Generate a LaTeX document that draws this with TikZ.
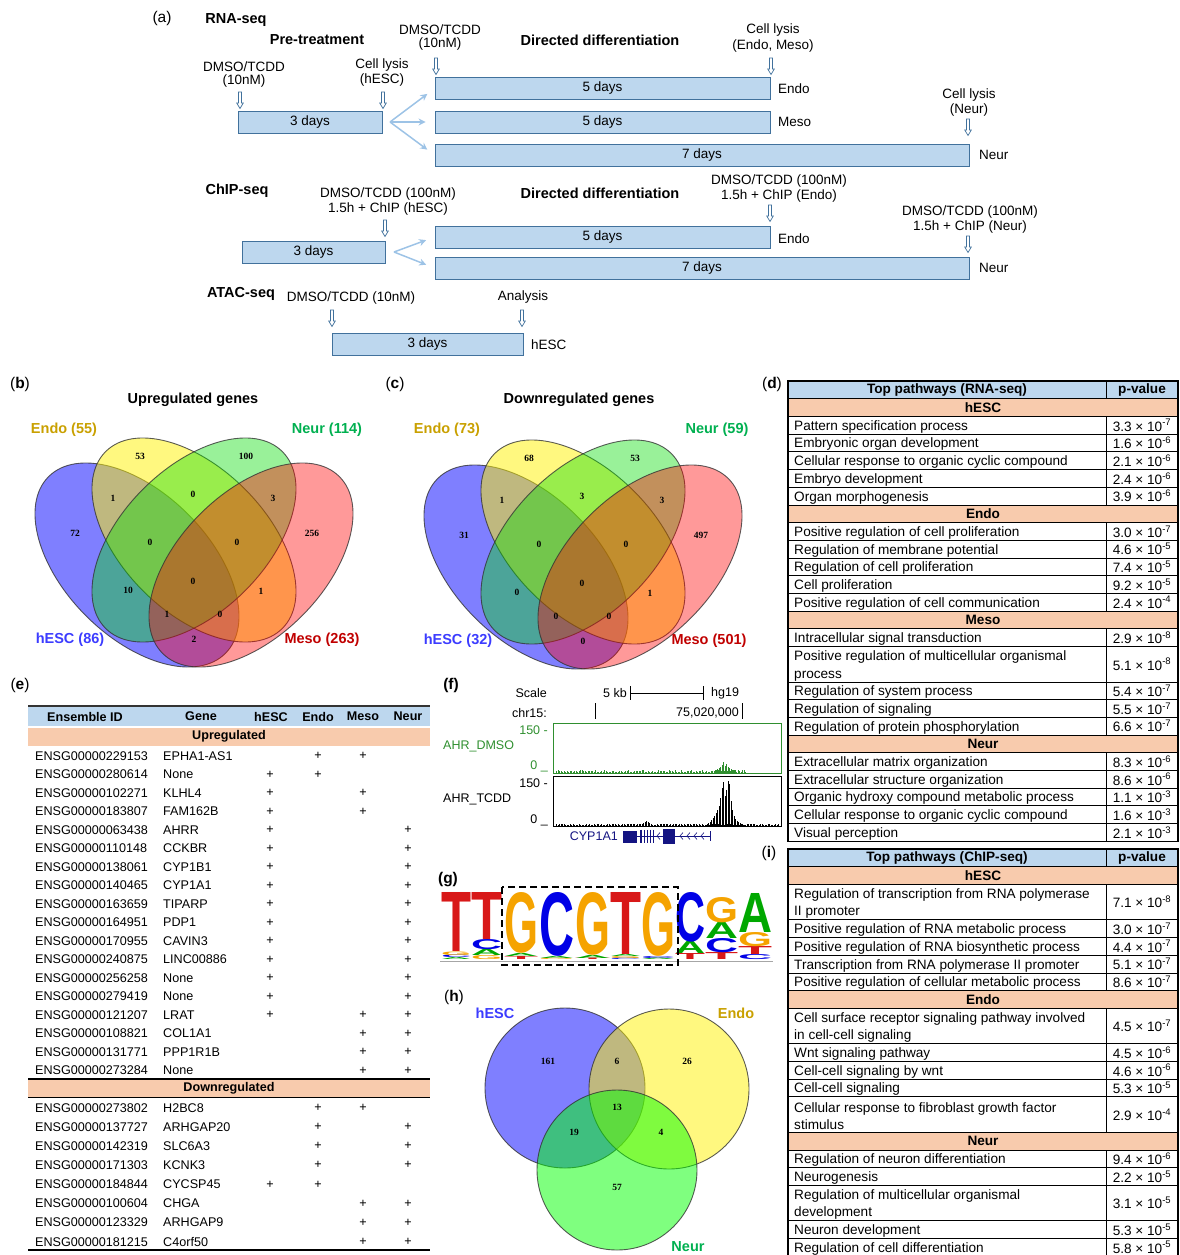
\documentclass[tikz,border=0pt]{standalone}
\usepackage{fontspec}
\setmainfont{Liberation Sans}
\newfontfamily\vennfont{Liberation Serif}
\usetikzlibrary{arrows.meta}

\definecolor{boxfill}{HTML}{BDD7EE}
\definecolor{boxline}{HTML}{41719C}
\definecolor{fanblue}{HTML}{9DC3E6}
\definecolor{catsalmon}{HTML}{F8CBAD}
\definecolor{endogold}{HTML}{C9A000}
\definecolor{neurgreen}{HTML}{00B050}
\definecolor{hescblue}{HTML}{3C3CFF}
\definecolor{mesored}{HTML}{C00000}
\definecolor{vgreen}{HTML}{00DC00}
\definecolor{ucscgreen}{HTML}{2F8F2F}
\definecolor{genenavy}{HTML}{141482}
\definecolor{logored}{HTML}{D81818}
\definecolor{logoorange}{HTML}{F5A300}
\definecolor{logoblue}{HTML}{0000E6}
\definecolor{logogreen}{HTML}{00A800}

\newcommand{\pv}[2]{#1 × 10\textsuperscript{-#2}}

\begin{document}
\begin{tikzpicture}[x=1pt, y=-1pt,
  every node/.style={inner sep=0pt},
  txt/.style={font=\fontsize{13.5}{14.5}\selectfont, align=center},
  head/.style={font=\fontsize{14.5}{16}\selectfont\bfseries},
  panel/.style={font=\fontsize{15.5}{17}\selectfont},
  stage/.style={draw=boxline, fill=boxfill, line width=0.9pt, font=\fontsize{13.5}{15}\selectfont},
  fan/.style={fanblue, line width=1.5pt, -{Stealth[length=7pt, width=7pt]}, shorten >=9pt},
  dnarrow/.pic={\draw[boxline, fill=white, line width=0.7pt]
    (-1.5,0) -- (-1.5,11) -- (-3.3,11) -- (0,16.5) -- (3.3,11) -- (1.5,11) -- (1.5,0) -- cycle;},
  vline/.style={draw=black!80, draw opacity=0.8, line width=0.9pt},
  quadvenn/.pic={
    \draw[vline, fill=blue, fill opacity=.5, rotate around={-45:(137,565)}] (137,565) ellipse [x radius=125, y radius=72];
    \draw[vline, fill=yellow, fill opacity=.5, rotate around={-45:(194,540)}] (194,540) ellipse [x radius=125, y radius=72];
    \draw[vline, fill=vgreen, fill opacity=.4, rotate around={45:(194,540)}] (194,540) ellipse [x radius=125, y radius=72];
    \draw[vline, fill=red, fill opacity=.4, rotate around={45:(251,565)}] (251,565) ellipse [x radius=125, y radius=72];},
  vlab/.style={font=\fontsize{14.5}{16}\selectfont\bfseries},
  vnum/.style={font=\vennfont\bfseries\fontsize{9.5}{10}\selectfont},
  vcirc/.style={circle, minimum size=160, vline, fill opacity=.5},
  tcell/.style={draw=black, line width=0.8pt},
  titem/.style={anchor=west, font=\fontsize{13.6}{17.7}\selectfont, align=left, yshift=-1.5pt},
  tpv/.style={font=\fontsize{13.6}{15}\selectfont},
  thead/.style={font=\fontsize{13.6}{15}\selectfont\bfseries},
  erow/.style={anchor=west, font=\fontsize{12.6}{14}\selectfont},
  eplus/.style={font=\fontsize{12.6}{14}\selectfont},
  ehead/.style={font=\fontsize{12.6}{14}\selectfont\bfseries},
  ucsc/.style={font=\fontsize{12.5}{14}\selectfont},
  letter/.style={anchor=south west}
]
\useasboundingbox (0,0) rectangle (1180,1255);

% (a) time lines
\node[panel] (pa) at (162,18) {(a)};
\node[head] (rnaseq) at (236,20) {RNA-seq};
\node[head] (pretreat) at (317,40) {Pre-treatment};
\node[head] (rdiff) at (600,40) {Directed differentiation};
\node[txt] (rdmso2) at (440,37.5) {DMSO/TCDD\\[-2pt](10nM)};
\node[txt] (rlysis2) at (773,38) {Cell lysis\\[1pt](Endo, Meso)};
\node[txt] (rdmso1) at (244,74.5) {DMSO/TCDD\\[-1pt](10nM)};
\node[txt] (rlysis1) at (382,72.5) {Cell lysis\\(hESC)};
\node[txt] (rlysis3) at (969,102.5) {Cell lysis\\(Neur)};

\node[stage, minimum width=144, minimum height=22] (rpre) at (310,122) {3 days};
\node[stage, minimum width=335, minimum height=22] (rb1) at (602.5,88.5) {5 days};
\node[stage, minimum width=335, minimum height=22] (rb2) at (602.5,122) {5 days};
\node[stage, minimum width=534, minimum height=22] (rb3) at (702,155) {7 days};
\node[txt, anchor=west] (rendo) at (778,89) {Endo};
\node[txt, anchor=west] (rmeso) at (778,122) {Meso};
\node[txt, anchor=west] (rneur) at (979,155) {Neur};

\coordinate (rfork) at (390,122);
\draw[fan] (rfork) -- (rb1.west);
\draw[fan] (rfork) -- (rb2.west);
\draw[fan] (rfork) -- (rb3.west);

\node[head] (chipseq) at (237,191) {ChIP-seq};
\node[head] (cdiff) at (600,193) {Directed differentiation};
\node[txt] (cchip1) at (388,201.5) {DMSO/TCDD (100nM)\\1.5h + ChIP (hESC)};
\node[txt] (cchip2) at (779,188.5) {DMSO/TCDD (100nM)\\1.5h + ChIP (Endo)};
\node[txt] (cchip3) at (970,219.5) {DMSO/TCDD (100nM)\\1.5h + ChIP (Neur)};
\node[stage, minimum width=143, minimum height=22] (cpre) at (313.5,252) {3 days};
\node[stage, minimum width=335, minimum height=22] (cb1) at (602.5,237) {5 days};
\node[stage, minimum width=534, minimum height=22] (cb2) at (702,268) {7 days};
\node[txt, anchor=west] (cendo) at (778,239) {Endo};
\node[txt, anchor=west] (cneur) at (979,268) {Neur};
\coordinate (cfork) at (394,252);
\draw[fan] (cfork) -- (cb1.west);
\draw[fan] (cfork) -- (cb2.west);

\node[head] (atacseq) at (241,294) {ATAC-seq};
\node[txt] (admso) at (351,298) {DMSO/TCDD (10nM)};
\node[txt] (aanal) at (523,297) {Analysis};
\node[stage, minimum width=191, minimum height=22] (apre) at (427.5,344) {3 days};
\node[txt, anchor=west] (ahesc) at (531,345) {hESC};

\foreach \x/\y in {240/92, 383/92, 436/58, 771/58, 968/119, 385/220, 770/205, 968/236, 332/310, 522/310}
  \pic at (\x,\y) {dnarrow};

% (b) and (c) four-set Venn diagrams
\node[panel] (pb) at (20,384) {(\textbf{b})};
\node[vlab] (btitle) at (193,400) {Upregulated genes};
\pic at (0,0) {quadvenn};
\node[vlab, text=endogold] (bendo) at (64,430) {Endo (55)};
\node[vlab, text=neurgreen] (bneur) at (327,430) {Neur (114)};
\node[vlab, text=hescblue] (bhesc) at (70,640) {hESC (86)};
\node[vlab, text=mesored] (bmeso) at (322,640) {Meso (263)};

\node[panel] (pc) at (395,384) {(\textbf{c})};
\node[vlab] (ctitle) at (579,400) {Downregulated genes};
\pic at (389,2) {quadvenn};
\node[vlab, text=endogold] (cendo) at (447,430) {Endo (73)};
\node[vlab, text=neurgreen] (cneur) at (717,430) {Neur (59)};
\node[vlab, text=hescblue] (chesc) at (458,641) {hESC (32)};
\node[vlab, text=mesored] (cmeso) at (709,641) {Meso (501)};

\foreach \x/\y/\nb/\nc [count=\i] in {140/456/53/68, 246/456/100/53, 113/498/1/1, 193/494/0/3,
    273/498/3/3, 75/533/72/31, 150/542/0/0, 237/542/0/0, 312/533/256/497, 193/581/0/0,
    128/590/10/0, 261/591/1/1, 167/614/1/0, 220/614/0/0, 194/639/2/0} {
  \node[vnum] (bn\i) at (\x,\y) {\nb};
  \node[vnum] (cn\i) at (\x+389,\y+2) {\nc};
}

% (d) RNA-seq pathways
\node[panel] (pd) at (772,384) {(\textbf{d})};
\draw[tcell, fill=boxfill] (788,381) rectangle (1106,398.7) (1106,381) rectangle (1178,398.7);
\node[thead] (dhead) at (947,390) {Top pathways (RNA-seq)};
\node[thead] (dpval) at (1142,390) {p-value};
\foreach \u/\t in {1/hESC, 7/Endo, 13/Meso, 20/Neur}{
  \pgfmathsetmacro\ya{381+\u*17.7}
  \draw[tcell, fill=catsalmon] (788,\ya) rectangle (1178,\ya+17.7);
  \node[thead] (dc\u) at (983,\ya+8.85) {\t};
}
\foreach \u/\n/\t/\m/\e in {
  2/1/Pattern specification process/3.3/7,
  3/1/Embryonic organ development/1.6/6,
  4/1/Cellular response to organic cyclic compound/2.1/6,
  5/1/Embryo development/2.4/6,
  6/1/Organ morphogenesis/3.9/6,
  8/1/Positive regulation of cell proliferation/3.0/7,
  9/1/Regulation of membrane potential/4.6/5,
  10/1/Regulation of cell proliferation/7.4/5,
  11/1/Cell proliferation/9.2/5,
  12/1/Positive regulation of cell communication/2.4/4,
  14/1/Intracellular signal transduction/2.9/8,
  15/2/Positive regulation of multicellular organismal\\process/5.1/8,
  17/1/Regulation of system process/5.4/7,
  18/1/Regulation of signaling/5.5/7,
  19/1/Regulation of protein phosphorylation/6.6/7,
  21/1/Extracellular matrix organization/8.3/6,
  22/1/Extracellular structure organization/8.6/6,
  23/1/Organic hydroxy compound metabolic process/1.1/3,
  24/1/Cellular response to organic cyclic compound/1.6/3,
  25/1/Visual perception/2.1/3}{
  \pgfmathsetmacro\ya{381+\u*17.7}
  \pgfmathsetmacro\yb{\ya+\n*17.7}
  \draw[tcell] (788,\ya) rectangle (1106,\yb) (1106,\ya) rectangle (1178,\yb);
  \node[titem] (dr\u) at (794,{(\ya+\yb)/2}) {\t};
  \node[tpv] (dp\u) at (1142,{(\ya+\yb)/2}) {\pv{\m}{\e}};
}
\draw[line width=1.4pt] (788,381) rectangle (1178,841.2);

% (i) ChIP-seq pathways
\node[panel] (pi) at (769,853) {(\textbf{i})};
\draw[tcell, fill=boxfill] (788,849) rectangle (1106,866.7) (1106,849) rectangle (1178,866.7);
\node[thead] (ihead) at (947,858) {Top pathways (ChIP-seq)};
\node[thead] (ipval) at (1142,858) {p-value};
\foreach \u/\t in {1/hESC, 8/Endo, 16/Neur}{
  \pgfmathsetmacro\ya{849+\u*17.7}
  \draw[tcell, fill=catsalmon] (788,\ya) rectangle (1178,\ya+17.7);
  \node[thead] (ic\u) at (983,\ya+8.85) {\t};
}
\foreach \u/\n/\t/\m/\e in {
  2/2/Regulation of transcription from RNA polymerase\\II promoter/7.1/8,
  4/1/Positive regulation of RNA metabolic process/3.0/7,
  5/1/Positive regulation of RNA biosynthetic process/4.4/7,
  6/1/Transcription from RNA polymerase II promoter/5.1/7,
  7/1/Positive regulation of cellular metabolic process/8.6/7,
  9/2/Cell surface receptor signaling pathway involved\\in cell-cell signaling/4.5/7,
  11/1/Wnt signaling pathway/4.5/6,
  12/1/Cell-cell signaling by wnt/4.6/6,
  13/1/Cell-cell signaling/5.3/5,
  14/2/Cellular response to fibroblast growth factor\\stimulus/2.9/4,
  17/1/Regulation of neuron differentiation/9.4/6,
  18/1/Neurogenesis/2.2/5,
  19/2/Regulation of multicellular organismal\\development/3.1/5,
  21/1/Neuron development/5.3/5,
  22/1/Regulation of cell differentiation/5.8/5}{
  \pgfmathsetmacro\ya{849+\u*17.7}
  \pgfmathsetmacro\yb{\ya+\n*17.7}
  \draw[tcell] (788,\ya) rectangle (1106,\yb) (1106,\ya) rectangle (1178,\yb);
  \node[titem] (ir\u) at (794,{(\ya+\yb)/2}) {\t};
  \node[tpv] (ip\u) at (1142,{(\ya+\yb)/2}) {\pv{\m}{\e}};
}
\draw[line width=1.4pt] (788,849) rectangle (1178,1256);

% (e) shared genes
\node[panel] (pe) at (20,685) {(\textbf{e})};
\draw[line width=2pt, black!80] (28,705.5) -- (430,705.5);
\fill[boxfill] (28,707) rectangle (430,726);
\foreach \t/\x [count=\i] in {Ensemble ID/85, Gene/201, hESC/271, Endo/318, Meso/363, Neur/408}
  \node[ehead] (eh\i) at (\x,716.5) {\t};
\fill[catsalmon] (28,727.5) rectangle (430,745.5);
\node[ehead] (eup) at (229,736.5) {Upregulated};
\foreach \id/\g [count=\i] in {ENSG00000229153/EPHA1-AS1, ENSG00000280614/None, ENSG00000102271/KLHL4,
    ENSG00000183807/FAM162B, ENSG00000063438/AHRR, ENSG00000110148/CCKBR, ENSG00000138061/CYP1B1,
    ENSG00000140465/CYP1A1, ENSG00000163659/TIPARP, ENSG00000164951/PDP1, ENSG00000170955/CAVIN3,
    ENSG00000240875/LINC00886, ENSG00000256258/None, ENSG00000279419/None, ENSG00000121207/LRAT,
    ENSG00000108821/COL1A1, ENSG00000131771/PPP1R1B, ENSG00000273284/None}{
  \node[erow] (eu\i) at (35,{756+(\i-1)*18.5}) {\id};
  \node[erow] (eug\i) at (163,{756+(\i-1)*18.5}) {\g};
}
\foreach \x/\rows in {270/{2,3,...,15}, 318/{1,2}, 363/{1,3,4,15,16,17,18}, 408/{5,6,...,18}}
  \foreach \i in \rows
    \node[eplus] (eup\x-\i) at (\x,{756+(\i-1)*18.5}) {+};
\draw[line width=1.3pt] (28,1079) -- (430,1079);
\fill[catsalmon] (28,1079.7) rectangle (430,1097);
\draw[line width=0.9pt] (28,1097.5) -- (430,1097.5);
\node[ehead] (edown) at (229,1088.5) {Downregulated};
\foreach \id/\g [count=\i] in {ENSG00000273802/H2BC8, ENSG00000137727/ARHGAP20, ENSG00000142319/SLC6A3,
    ENSG00000171303/KCNK3, ENSG00000184844/CYCSP45, ENSG00000100604/CHGA, ENSG00000123329/ARHGAP9,
    ENSG00000181215/C4orf50}{
  \node[erow] (ed\i) at (35,{1108+(\i-1)*19.1}) {\id};
  \node[erow] (edg\i) at (163,{1108+(\i-1)*19.1}) {\g};
}
\foreach \x/\rows in {270/{5}, 318/{1,2,3,4,5}, 363/{1,6,7,8}, 408/{2,3,4,6,7,8}}
  \foreach \i in \rows
    \node[eplus] (edp\x-\i) at (\x,{1108+(\i-1)*19.1}) {+};
\draw[line width=1.3pt] (28,1250) -- (430,1250);

% (f) browser tracks
\node[panel] (pf) at (451,685) {\textbf{(f)}};
\node[ucsc, anchor=east] (scale) at (547,693) {Scale};
\node[ucsc, anchor=east] (kb) at (627,693) {5 kb};
\node[ucsc, anchor=west] (hg) at (711,693) {hg19};
\draw[line width=0.7pt] (630,693) -- (703,693) (630,686) -- (630,700) (703,686) -- (703,700);
\node[ucsc, anchor=east] (chr) at (547,713) {chr15:};
\node[ucsc, anchor=east] (pos) at (739,713) {75,020,000};
\draw[line width=0.7pt] (595,703) -- (595,719) (742,703) -- (742,719);
\draw[ucscgreen, line width=0.7pt] (553,723) rectangle (781,773);
\draw[line width=0.7pt] (553,776) rectangle (781,826);
\node[ucsc, text=ucscgreen, anchor=east] (d150) at (548,730) {150 -};
\node[ucsc, text=ucscgreen, anchor=west] (dname) at (443,746) {AHR\_DMSO};
\node[ucsc, text=ucscgreen, anchor=east] (d0) at (548,766) {0 \_};
\node[ucsc, anchor=east] (t150) at (548,783) {150 -};
\node[ucsc, anchor=west] (tname) at (443,799) {AHR\_TCDD};
\node[ucsc, anchor=east] (t0) at (548,820) {0 \_};
\pgfmathsetseed{11}
\foreach \x in {556,557.5,...,746}{
  \pgfmathsetmacro\h{0.3+2.2*rnd}
  \fill[ucscgreen] (\x,772.5) rectangle ++(1.2,-\h);
}
\foreach \h [count=\i] in {3,4,5,6,8,11,7,9,6,5,4,3,3,2}
  \fill[ucscgreen] (714+\i*1.5,772.5) rectangle ++(1.2,-\h);
\foreach \x in {556,557.5,...,779}{
  \pgfmathsetmacro\h{0.2+1.6*rnd}
  \fill[black] (\x,825.5) rectangle ++(1.2,-\h);
}
\foreach \h [count=\i] in {2,3,4,5,4,3,2}
  \fill[black] (640+\i*1.5,825.5) rectangle ++(1.2,-\h);
\foreach \h [count=\i] in {2,3,4,6,8,10,13,16,20,28,38,44,30,36,45,42,25,16,10,7,5,4,3,2,1}
  \fill[black] (705+\i*1.5,825.5) rectangle ++(1.3,-\h);
\node[ucsc, text=genenavy, anchor=east] (cyp) at (618,836) {CYP1A1};
\draw[genenavy, line width=0.8pt] (623,836) -- (710,836) (710,831) -- (710,841);
\fill[genenavy] (623,830.5) rectangle (637,842.5);
\fill[genenavy] (663,829) rectangle (675,844);
\foreach \x in {641,644.5,647.5,650.5,653.5}
  \draw[genenavy, line width=1.2pt] (\x,829.5) -- (\x,843);
\foreach \x in {657,680,687,694,701}
  \draw[genenavy, line width=0.6pt] (\x+3,832.5) -- (\x,836) -- (\x+3,839.5);

% (g) motif logo
\node[panel] (pg) at (448,880) {\textbf{(g)}};
\draw[gray!70, line width=0.8pt] (440,961) -- (773,961);
\foreach \x/\w/\y/\h/\c/\l [count=\i] in {
  441/30/960/2/logogreen/A, 441/30/958/2.5/logoblue/C, 441/30/955.5/3.5/logoorange/G, 441/30/952/59/logored/T,
  471/31/960/4/logoorange/G, 471/31/956/6/logogreen/A, 471/31/950/10/logoblue/C, 471/31/940/47/logored/T,
  504/34/960/3/logored/T, 504/34/957/3/logogreen/A, 504/34/954/60/logoorange/G,
  539/35/960/1.5/logoorange/G, 539/35/958.5/2/logogreen/A, 539/35/956.5/63/logoblue/C,
  575/35/960/1.5/logored/T, 575/35/958.5/3/logogreen/A, 575/35/955.5/62/logoorange/G,
  610/31/960/1.5/logoblue/C, 610/31/958.5/2/logoorange/G, 610/31/956.5/2/logogreen/A, 610/31/954.5/62/logored/T,
  641/34/960/1.5/logogreen/A, 641/34/958.5/2/logoblue/C, 641/34/956.5/63/logoorange/G,
  675/30/960/6/logored/T, 675/30/954/12/logogreen/A, 675/30/942/49/logoblue/C,
  705/33/960/7/logored/T, 705/33/953/14/logoblue/C, 705/33/939/16/logogreen/A, 705/33/923/25/logoorange/G,
  738/34/960/5/logoblue/C, 738/34/955/8/logored/T, 738/34/947/14/logoorange/G, 738/34/933/39/logogreen/A}
  \node[letter, text=\c] (lg\i) at (\x,\y) {\resizebox{\w pt}{\h pt}{\bfseries\l}};
\draw[line width=2.5pt, dash pattern=on 7pt off 4pt] (502,887) rectangle (678,965);

% (h) three-set Venn diagram
\node[panel] (ph) at (454,997) {(\textbf{h})};
\node[vcirc, fill=blue] (vhesc) at (565,1088) {};
\node[vcirc, fill=yellow] (vendo) at (669,1089) {};
\node[vcirc, fill=green] (vneur) at (617,1170) {};
\node[vlab, text=hescblue] (hhesc) at (495,1013) {hESC};
\node[vlab, text=endogold] (hendo) at (736,1013) {Endo};
\node[vlab, text=neurgreen] (hneur) at (688,1247) {Neur};
\foreach \x/\y/\n [count=\i] in {548/1061/161, 617/1061/6, 687/1061/26, 617/1107/13, 574/1132/19, 661/1132/4, 617/1187/57}
  \node[vnum] (hn\i) at (\x,\y) {\n};
\end{tikzpicture}
\end{document}
